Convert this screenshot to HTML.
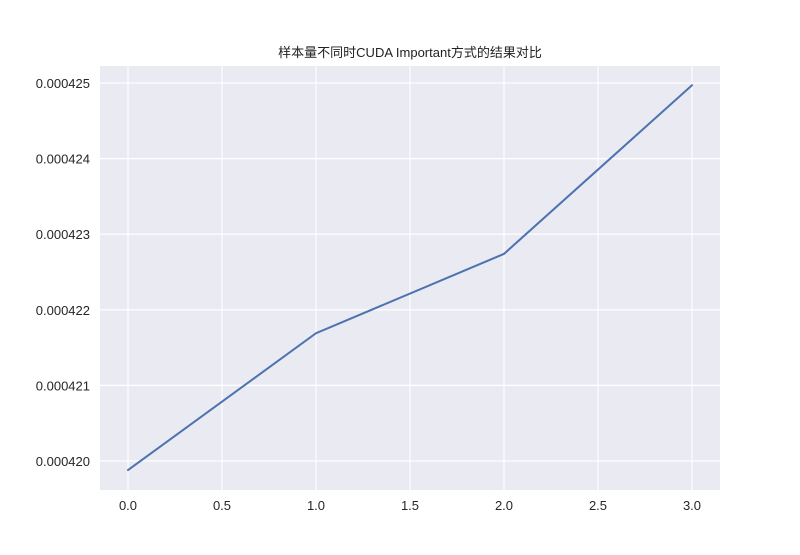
<!DOCTYPE html>
<html><head><meta charset="utf-8"><style>
body{margin:0;background:#fff;}
svg text{font-family:"Liberation Sans","Noto Sans CJK SC",sans-serif;}
</style></head><body>
<svg id="chart" width="800" height="550" xmlns="http://www.w3.org/2000/svg">
<rect x="0" y="0" width="800" height="550" fill="#fff"/>
<rect x="100" y="66" width="620" height="424" fill="#eaeaf2"/>
<g id="grid"></g>
<g id="ticks"></g>
<path id="line" fill="none" stroke="#4c72b0" stroke-width="2" stroke-linecap="round"/>
<text x="410" y="57" text-anchor="middle" font-size="13" fill="#222">样本量不同时CUDA Important方式的结果对比</text>
</svg>
<script>
const xValues = [0, 1, 2, 3];
const yValues = [0.00041988, 0.00042169, 0.00042274, 0.00042497];
const xTicks = [0, 0.5, 1, 1.5, 2, 2.5, 3];
const xTickLabels = ["0.0","0.5","1.0","1.5","2.0","2.5","3.0"];
const yTicks = [0.000420, 0.000421, 0.000422, 0.000423, 0.000424, 0.000425];
const yTickLabels = ["0.000420","0.000421","0.000422","0.000423","0.000424","0.000425"];

const NS = "http://www.w3.org/2000/svg";
function xs(v){ return 128 + v * 188; }
function ys(v){ return 461 - (v - 0.000420) / 0.000001 * 75.6; }
const grid = document.getElementById('grid');
const ticks = document.getElementById('ticks');
xTicks.forEach((t,i)=>{
  const l = document.createElementNS(NS,'line');
  
  
  l.setAttribute('x1',xs(t)); l.setAttribute('x2',xs(t));
  l.setAttribute('y1',66); l.setAttribute('y2',490);
  l.setAttribute('stroke','#fff'); l.setAttribute('stroke-width','1.2');
  grid.appendChild(l);
  const tx = document.createElementNS(NS,'text');
  
  
  tx.setAttribute('x',xs(t)); tx.setAttribute('y',510);
  tx.setAttribute('text-anchor','middle'); tx.setAttribute('font-size','13'); tx.setAttribute('fill','#262626');
  tx.textContent = xTickLabels[i];
  ticks.appendChild(tx);
});
yTicks.forEach((t,i)=>{
  const l = document.createElementNS(NS,'line');
  
  
  l.setAttribute('x1',100); l.setAttribute('x2',720);
  l.setAttribute('y1',ys(t)); l.setAttribute('y2',ys(t));
  l.setAttribute('stroke','#fff'); l.setAttribute('stroke-width','1.2');
  grid.appendChild(l);
  const tx = document.createElementNS(NS,'text');
  
  
  tx.setAttribute('x',90); tx.setAttribute('y',ys(t)+5);
  tx.setAttribute('text-anchor','end'); tx.setAttribute('font-size','13'); tx.setAttribute('fill','#262626');
  tx.textContent = yTickLabels[i];
  ticks.appendChild(tx);
});
document.getElementById('line').setAttribute('d', xValues.map((x,i)=>(i?'L':'M')+xs(x)+' '+ys(yValues[i])).join(' '));
</script>
</body></html>
